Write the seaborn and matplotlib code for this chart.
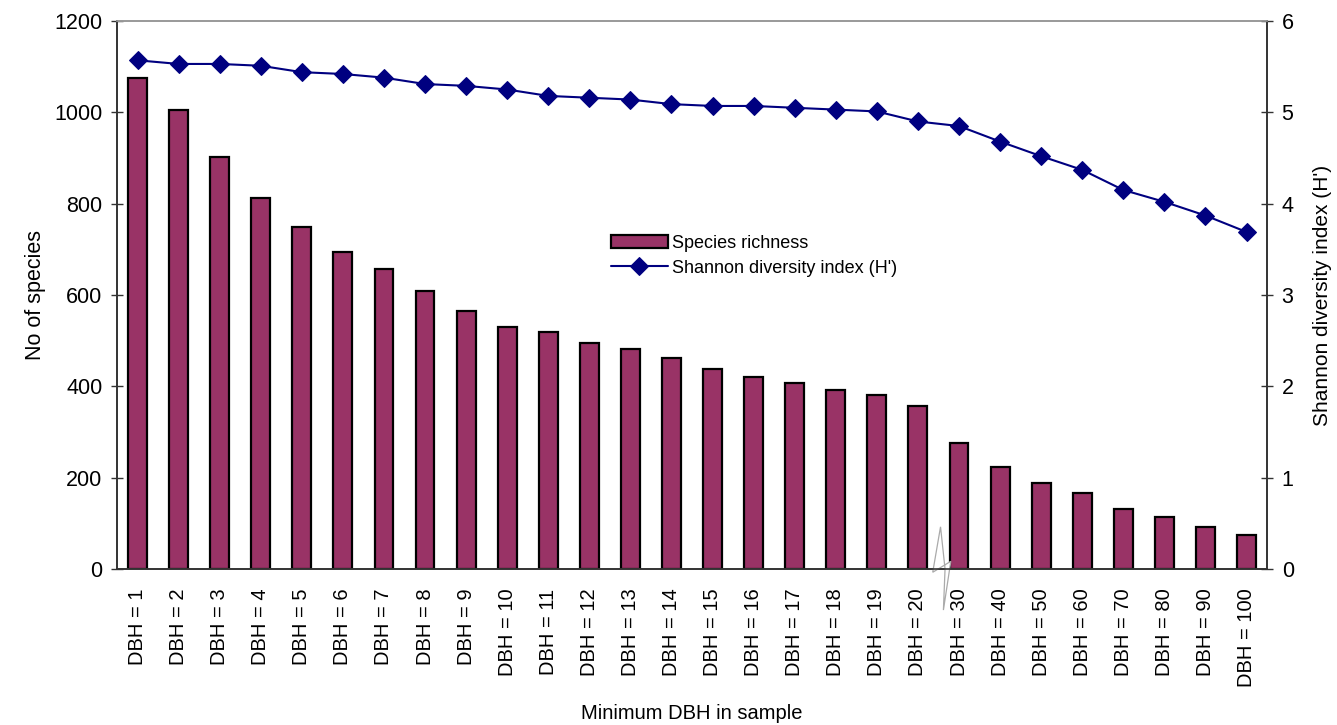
import numpy as np
import pandas as pd
import matplotlib
matplotlib.use("Agg")
import matplotlib.pyplot as plt
import matplotlib.transforms as mtransforms
from matplotlib.patches import Polygon
import seaborn as sns

# minimum DBH classes (cm) used to subsample the plot
dbh = [1, 2, 3, 4, 5, 6, 7, 8, 9, 10, 11, 12, 13, 14, 15, 16, 17, 18, 19, 20,
       30, 40, 50, 60, 70, 80, 90, 100]
richness = [1075, 1005, 903, 813, 748, 695, 656, 608, 564, 529, 520, 494, 481, 463,
            437, 420, 407, 393, 380, 358, 275, 223, 188, 166, 131, 114, 92, 74]
shannon = [5.57, 5.53, 5.53, 5.51, 5.44, 5.42, 5.38, 5.31, 5.29, 5.25, 5.18, 5.16,
           5.14, 5.09, 5.07, 5.07, 5.05, 5.03, 5.01, 4.90, 4.85, 4.68, 4.52, 4.37,
           4.15, 4.02, 3.87, 3.69]
labels = [f"DBH = {d}" for d in dbh]

df = pd.DataFrame({"label": labels, "richness": richness, "shannon": shannon})
df["pos"] = np.arange(len(df))

sns.set_style("white")
plt.rcParams["font.family"] = ["Liberation Sans", "DejaVu Sans"]
plt.rcParams.update({"text.color": "black", "axes.labelcolor": "black",
                     "xtick.color": "black", "ytick.color": "black"})

fig = plt.figure(figsize=(13.37, 7.25), dpi=100)
ax = fig.add_axes([0.0875, 0.2152, 0.8602, 0.7558])

sns.barplot(data=df, x="label", y="richness", color="#993366", saturation=1,
            edgecolor="black", linewidth=1.6, width=0.46, ax=ax,
            label="Species richness")
ax.set_xlim(-0.5, len(df) - 0.5)
ax.set_ylim(0, 1200)
ax.set_yticks(range(0, 1201, 200))

ax2 = ax.twinx()
sns.lineplot(data=df, x="pos", y="shannon", color="#000080", marker="D",
             markersize=9, markeredgecolor="#000080", linewidth=1.5, ax=ax2,
             label="Shannon diversity index (H')")
ax2.set_ylim(0, 6)
ax2.set_yticks(range(0, 7))
ax2.set_xlim(-0.5, len(df) - 0.5)

# category ticks sit between bars, labels at bar centres
ax.set_xticks(np.arange(len(df)))
ax.set_xticklabels(labels, rotation=90, fontsize=14.5)
ax.set_xticks(np.arange(-0.5, len(df)), minor=True)
ax.tick_params(axis="x", which="major", length=0, pad=14)
ax.tick_params(axis="x", which="minor", direction="inout", length=9, width=1, color="#333333")
ax.tick_params(axis="y", direction="inout", length=9, width=1, labelsize=15.5, color="#333333", pad=6)
ax2.tick_params(axis="y", direction="inout", length=9, width=1, labelsize=15.5, color="#333333", pad=6)

ax.set_xlabel("Minimum DBH in sample", fontsize=14.5, labelpad=12)
ax.set_ylabel("No of species", fontsize=15.5, labelpad=6)
ax2.set_ylabel("Shannon diversity index (H')", fontsize=15, labelpad=14)

for a in (ax, ax2):
    for s in ("left", "right", "bottom"):
        a.spines[s].set_color("#333333")
        a.spines[s].set_linewidth(1.2)
    a.spines["top"].set_color("#999999")
    a.spines["top"].set_linewidth(1.2)

# axis break between DBH = 20 and DBH = 30
trans = mtransforms.blended_transform_factory(ax.transData, ax.transAxes)
brk = Polygon([(19.55, 0.077), (19.36, -0.006), (19.8, 0.014), (19.62, -0.075),
               (19.66, 0.0), (19.55, 0.077)],
              closed=True, facecolor="white", edgecolor="#aaaaaa", linewidth=0.9,
              transform=trans, clip_on=False, zorder=5)
ax.add_patch(brk)

h1, l1 = ax.get_legend_handles_labels()
h2, l2 = ax2.get_legend_handles_labels()
if ax2.get_legend():
    ax2.get_legend().remove()
ax.legend(h1 + h2, l1 + l2, loc="upper left", bbox_to_anchor=(0.415, 0.64),
          frameon=False, fontsize=13, handlelength=3.2, handletextpad=0.2,
          labelspacing=0.45)

fig.savefig("out.png", dpi=100)
